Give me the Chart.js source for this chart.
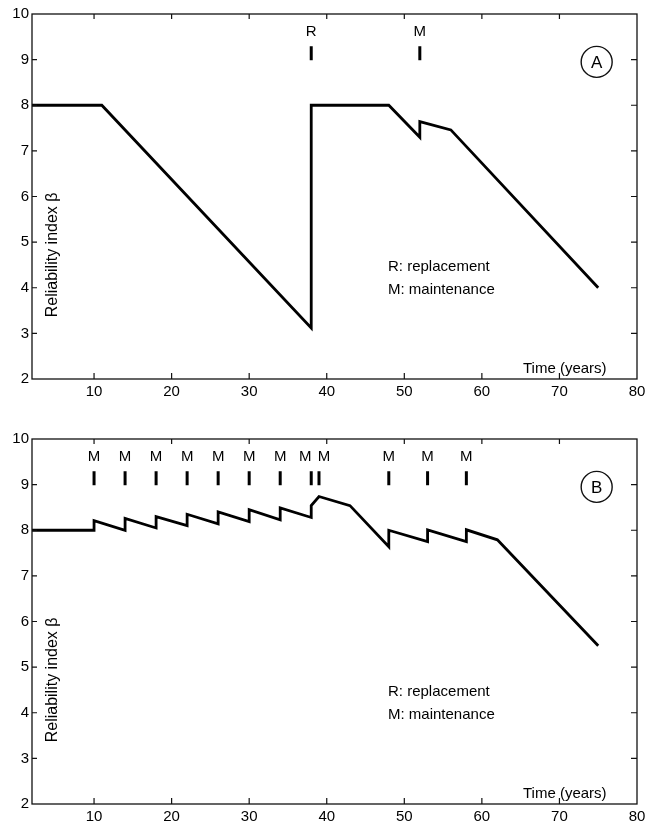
<!DOCTYPE html>
<html>
<head>
<meta charset="utf-8">
<script src="https://cdn.jsdelivr.net/npm/chart.js@4/dist/chart.umd.min.js"></script>
<style>
html,body{margin:0;padding:0;background:#fff;}
#wrap{position:relative;width:652px;height:827px;}
.pane{position:absolute;left:0;width:652px;}
</style>
</head>
<body>
<div id="wrap">
  <div class="pane" style="top:0;height:410px;"><canvas id="cA"></canvas></div>
  <div class="pane" style="top:410px;height:417px;"><canvas id="cB"></canvas></div>
</div>
<script>
// ---- data ----
const xTicks = [10, 20, 30, 40, 50, 60, 70, 80];
const yTicks = [2, 3, 4, 5, 6, 7, 8, 9, 10];

// Panel A: reliability index profile
const timeA = [2, 11, 38, 38, 48, 52, 52, 56, 75];
const betaA = [8, 8, 3.12, 8, 8, 7.30, 7.64, 7.46, 4.0];
const eventTimesA = [38, 52];
const eventTypesA = ['R', 'M'];

// Panel B: reliability index profile
const timeB = [2, 10, 10, 14, 14, 18, 18, 22, 22, 26, 26, 30, 30, 34, 34, 38, 38, 39, 43, 48, 48, 53, 53, 58, 58, 62, 75];
const betaB = [8, 8, 8.21, 8.0, 8.26, 8.05, 8.30, 8.10, 8.35, 8.14, 8.40, 8.19, 8.45, 8.23, 8.49, 8.28, 8.54, 8.74, 8.54, 7.64, 8.0, 7.75, 8.01, 7.75, 8.01, 7.79, 5.47];
const eventTimesB = [10, 14, 18, 22, 26, 30, 34, 38, 39, 48, 53, 58];
const eventTypesB = ['M', 'M', 'M', 'M', 'M', 'M', 'M', 'M', 'M', 'M', 'M', 'M'];

const legendLines = ['R: replacement', 'M: maintenance'];
const xTitle = 'Time (years)';
const yTitle = 'Reliability index \u03b2';

const FONT = "'Liberation Sans', Arial, Helvetica, sans-serif";

function makePanel(canvasId, times, betas, evTimes, evTypes, letter, padTop, xHeight) {
  const annot = {
    id: 'annot_' + canvasId,
    afterDraw(chart) {
      const ctx = chart.ctx;
      const ca = chart.chartArea;
      const xs = chart.scales.x, ys = chart.scales.y;
      ctx.save();
      // frame
      ctx.strokeStyle = '#111';
      ctx.lineWidth = 1.3;
      ctx.strokeRect(ca.left, ca.top, ca.right - ca.left, ca.bottom - ca.top);
      // inward tick marks on all four sides
      ctx.lineWidth = 1.2;
      ctx.beginPath();
      xTicks.forEach(v => {
        const px = xs.getPixelForValue(v);
        if (px > ca.left + 1 && px < ca.right - 1) {
          ctx.moveTo(px, ca.bottom); ctx.lineTo(px, ca.bottom - 6);
          ctx.moveTo(px, ca.top); ctx.lineTo(px, ca.top + 5);
        }
      });
      yTicks.forEach(v => {
        const py = ys.getPixelForValue(v);
        if (py > ca.top + 1 && py < ca.bottom - 1) {
          ctx.moveTo(ca.left, py); ctx.lineTo(ca.left + 5, py);
          ctx.moveTo(ca.right, py); ctx.lineTo(ca.right - 6, py);
        }
      });
      ctx.stroke();

      ctx.fillStyle = '#000';
      ctx.font = '15px ' + FONT;
      ctx.textBaseline = 'middle';
      // event labels above marker bars
      ctx.textAlign = 'center';
      const pxs = evTimes.map(t => xs.getPixelForValue(t));
      evTypes.forEach((lab, i) => {
        let px = pxs[i];
        if (i + 1 < pxs.length && pxs[i + 1] - px < 14) px -= 6;
        if (i > 0 && px - pxs[i - 1] < 14) px += 5;
        ctx.fillText(lab, px, ys.getPixelForValue(9.6));
      });
      // legend text
      ctx.textAlign = 'left';
      ctx.fillText(legendLines[0], xs.getPixelForValue(47.9), ys.getPixelForValue(4.45));
      ctx.fillText(legendLines[1], xs.getPixelForValue(47.9), ys.getPixelForValue(3.96));
      // x title inside plot
      ctx.fillText(xTitle, xs.getPixelForValue(65.3), ys.getPixelForValue(2.22));
      // y title inside plot (rotated)
      ctx.save();
      ctx.font = '16px ' + FONT;
      ctx.translate(xs.getPixelForValue(4.6), ys.getPixelForValue(4.72));
      ctx.rotate(-Math.PI / 2);
      ctx.textAlign = 'center';
      ctx.fillText(yTitle, 0, 0);
      ctx.restore();
      // circled panel letter
      const cx = xs.getPixelForValue(74.8), cy = ys.getPixelForValue(8.95);
      ctx.beginPath();
      ctx.lineWidth = 1.4;
      ctx.arc(cx, cy, 15.5, 0, Math.PI * 2);
      ctx.stroke();
      ctx.textAlign = 'center';
      ctx.font = '17px ' + FONT;
      ctx.fillText(letter, cx, cy + 1);
      ctx.restore();
    }
  };

  return new Chart(document.getElementById(canvasId), {
    type: 'scatter',
    data: {
      datasets: [
        {
          data: times.map((t, i) => ({ x: t, y: betas[i] })),
          showLine: true,
          borderColor: '#000',
          borderWidth: 2.8,
          borderJoinStyle: 'miter',
          pointRadius: 0,
          tension: 0
        },
        {
          data: evTimes.map(t => ({ x: t, y: 9.14 })),
          showLine: false,
          pointStyle: 'line',
          rotation: 90,
          radius: 7,
          borderColor: '#000',
          borderWidth: 3
        }
      ]
    },
    options: {
      responsive: true,
      maintainAspectRatio: false,
      animation: false,
      devicePixelRatio: 1,
      layout: { padding: { left: 0, right: 15, top: padTop, bottom: 0 } },
      plugins: { legend: { display: false }, tooltip: { enabled: false } },
      scales: {
        x: {
          type: 'linear', min: 2, max: 80,
          afterBuildTicks: s => { s.ticks = xTicks.map(v => ({ value: v })); },
          afterFit: s => { s.height = xHeight; },
          grid: { display: false, drawTicks: false },
          border: { display: false },
          ticks: { color: '#000', font: { size: 15, family: FONT }, padding: 4, maxRotation: 0, autoSkip: false }
        },
        y: {
          type: 'linear', min: 2, max: 10,
          afterBuildTicks: s => { s.ticks = yTicks.map(v => ({ value: v })); },
          afterFit: s => { s.width = 32; },
          grid: { display: false, drawTicks: false },
          border: { display: false },
          ticks: { color: '#000', font: { size: 15, family: FONT }, padding: 3, autoSkip: false }
        }
      }
    },
    plugins: [annot]
  });
}

makePanel('cA', timeA, betaA, eventTimesA, eventTypesA, 'A', 14, 31);
makePanel('cB', timeB, betaB, eventTimesB, eventTypesB, 'B', 29, 23);
</script>
</body>
</html>
